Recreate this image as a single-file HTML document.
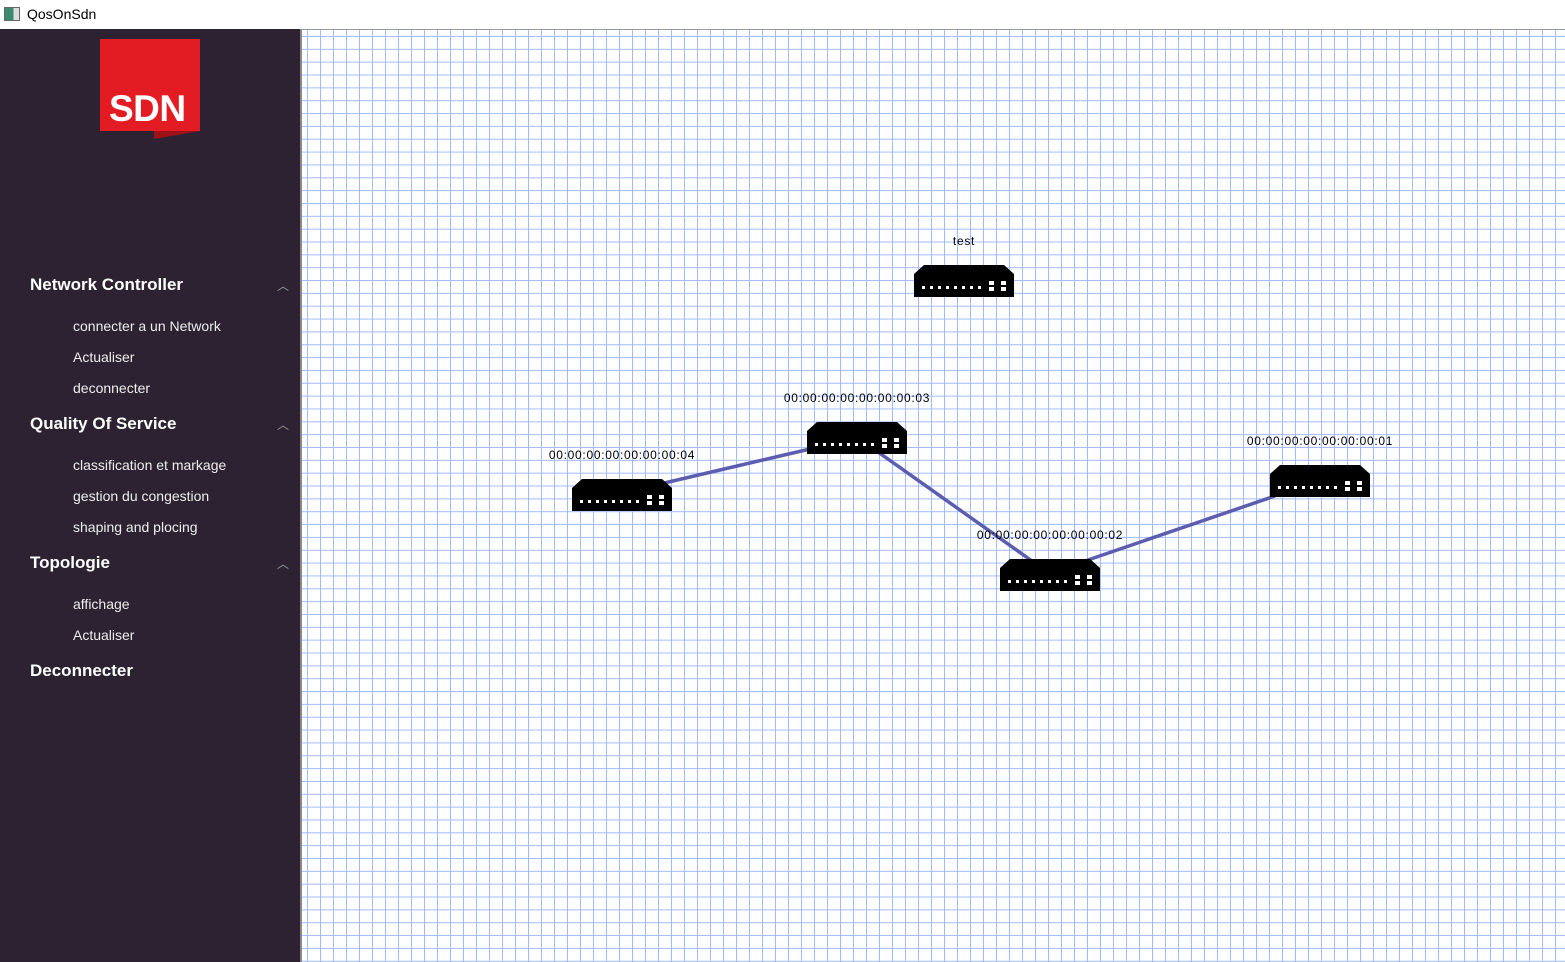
<!DOCTYPE html>
<html><head><meta charset="utf-8"><style>
body{margin:0;width:1565px;height:962px;overflow:hidden;background:#fff;font-family:"Liberation Sans",sans-serif;position:relative}
.title{position:absolute;left:0;top:0;width:1565px;height:29px;background:#fff}
.side{position:absolute;left:0;top:29px;width:300px;height:933px;background:#2c2231;color:#fff}
.h{position:absolute;left:30px;font-weight:bold;font-size:17px}
.i{position:absolute;left:73px;font-size:14px;color:#eee}
.car{position:absolute;left:277px;font-size:12px;color:#999}
.canvas{position:absolute;left:300px;top:29px;width:1265px;height:933px;border-left:2px solid #888;border-top:1px solid #999;box-sizing:border-box;
background-color:#fff;background-image:linear-gradient(to right,#a0bbff 1px,transparent 1px),linear-gradient(to bottom,#a0bbff 1px,transparent 1px);background-size:13px 12.85px;background-position:5px 6px}
.lbl{position:absolute;font-size:12px;color:#000;transform:translateX(-50%);white-space:nowrap;letter-spacing:0.7px}
</style></head><body>
<div class="title"><div style="position:absolute;left:4px;top:7px;width:14px;height:12px;border:1px solid #666;background:linear-gradient(90deg,#3a8a70 60%,#ddd 60%)"></div><span style="position:absolute;left:27px;top:6px;font-size:14px">QosOnSdn</span></div>
<div class="side">
<div style="position:absolute;left:100px;top:10px;width:100px;height:92px;background:#e31c23"></div>
<div style="position:absolute;left:154px;top:102px;width:46px;height:8px;background:#9e1117;clip-path:polygon(0 0,100% 0,0 100%)"></div>
<div style="position:absolute;left:109px;top:59px;color:#fff;font-weight:bold;font-size:37px;letter-spacing:-0.5px">SDN</div>
<div class="h" style="top:246px">Network Controller</div><div class="car" style="top:248px">︿</div>
<div class="i" style="top:289px">connecter a un Network</div>
<div class="i" style="top:320px">Actualiser</div>
<div class="i" style="top:351px">deconnecter</div>
<div class="h" style="top:385px">Quality Of Service</div><div class="car" style="top:387px">︿</div>
<div class="i" style="top:428px">classification et markage</div>
<div class="i" style="top:459px">gestion du congestion</div>
<div class="i" style="top:490px">shaping and plocing</div>
<div class="h" style="top:524px">Topologie</div><div class="car" style="top:526px">︿</div>
<div class="i" style="top:567px">affichage</div>
<div class="i" style="top:598px">Actualiser</div>
<div class="h" style="top:632px">Deconnecter</div>
</div>
<div class="canvas"></div>
<svg style="position:absolute;left:0;top:0" width="1565" height="962">
<defs><g id="sw">
<polygon points="10,0 90,0 100,9 0,9" fill="#000"/>
<rect x="0" y="9" width="100" height="23" fill="#000"/>
<g fill="#fff"><rect x="8" y="21" width="3" height="3"/><rect x="16" y="21" width="3" height="3"/><rect x="24" y="21" width="3" height="3"/><rect x="32" y="21" width="3" height="3"/><rect x="40" y="21" width="3" height="3"/><rect x="48" y="21" width="3" height="3"/><rect x="56" y="21" width="3" height="3"/><rect x="64" y="21" width="3" height="3"/><rect x="75" y="16" width="5" height="4"/><rect x="75" y="22" width="5" height="4"/><rect x="87" y="16" width="5" height="4"/><rect x="87" y="22" width="5" height="4"/></g>
</g></defs>
<g stroke="#5c5cb0" stroke-width="3.5"><line x1="660" y1="484" x2="810" y2="449"/><line x1="878" y1="452" x2="1032" y2="561"/><line x1="1085" y1="561" x2="1275" y2="496"/></g>
<use href="#sw" x="914" y="265"/><use href="#sw" x="807" y="422"/><use href="#sw" x="572" y="479"/><use href="#sw" x="1000" y="559"/><use href="#sw" x="1270" y="465"/>
</svg>
<div class="lbl" style="left:964px;top:234px">test</div>
<div class="lbl" style="left:857px;top:391px">00:00:00:00:00:00:00:03</div>
<div class="lbl" style="left:622px;top:448px">00:00:00:00:00:00:00:04</div>
<div class="lbl" style="left:1050px;top:528px">00:00:00:00:00:00:00:02</div>
<div class="lbl" style="left:1320px;top:434px">00:00:00:00:00:00:00:01</div>
</body></html>
